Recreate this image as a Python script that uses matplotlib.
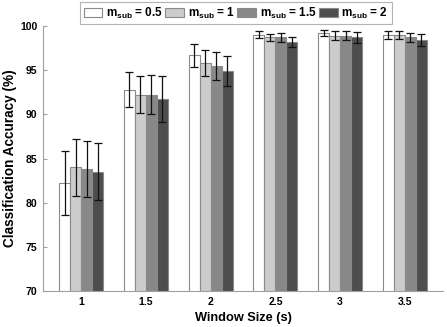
import matplotlib
matplotlib.use("Agg")
import matplotlib.pyplot as plt
import numpy as np

plt.rcParams['font.family'] = ['Liberation Sans', 'DejaVu Sans']
plt.rcParams['mathtext.fontset'] = 'custom'
plt.rcParams['mathtext.rm'] = 'Liberation Sans:bold'
plt.rcParams['mathtext.it'] = 'Liberation Sans:bold'
plt.rcParams['mathtext.bf'] = 'Liberation Sans:bold'

windows = ['1', '1.5', '2', '2.5', '3', '3.5']
series_labels = [r'$\mathregular{m_{sub}}$ = 0.5', r'$\mathregular{m_{sub}}$ = 1',
                 r'$\mathregular{m_{sub}}$ = 1.5', r'$\mathregular{m_{sub}}$ = 2']
acc_05 = [82.2, 92.8, 96.7, 99.0, 99.2, 99.0]
acc_1  = [84.0, 92.2, 95.8, 98.7, 98.9, 99.0]
acc_15 = [83.8, 92.2, 95.5, 98.7, 98.9, 98.7]
acc_2  = [83.5, 91.7, 94.9, 98.2, 98.7, 98.4]
err_05 = [3.6, 2.0, 1.3, 0.4, 0.35, 0.45]
err_1  = [3.2, 2.1, 1.5, 0.45, 0.5, 0.45]
err_15 = [3.2, 2.2, 1.6, 0.5, 0.5, 0.5]
err_2  = [3.2, 2.6, 1.7, 0.6, 0.6, 0.7]

colors = ['#ffffff', '#cccccc', '#888888', '#4d4d4d']
edge = '#8a8a8a'

fig = plt.figure(figsize=(4.47, 3.27), dpi=100)
ax = fig.add_axes([0.0962, 0.110, 0.895, 0.8105])

x = np.arange(1, len(windows) + 1)
bw = 0.17
data = [acc_05, acc_1, acc_15, acc_2]
errs = [err_05, err_1, err_15, err_2]
for i, (vals, e, c, lab) in enumerate(zip(data, errs, colors, series_labels)):
    pos = x + (i - 1.5) * bw
    ax.bar(pos, vals, width=bw, color=c, edgecolor=edge, linewidth=0.8, label=lab, zorder=2)
    ax.errorbar(pos, vals, yerr=e, fmt='none', ecolor='#111111', elinewidth=0.9,
                capsize=3, capthick=0.9, zorder=3)

ax.set_xlim(0.41, 6.59)
ax.set_ylim(70, 100)
ax.set_xticks(x)
ax.set_xticklabels(windows)
ax.set_yticks([70, 75, 80, 85, 90, 95, 100])
for s in ['top', 'right']:
    ax.spines[s].set_visible(False)
for s in ['left', 'bottom']:
    ax.spines[s].set_color('#a0a0a0')
    ax.spines[s].set_linewidth(0.8)
ax.tick_params(direction='in', length=3, color='#a0a0a0', labelsize=7.5, pad=4)
for lbl in ax.get_xticklabels() + ax.get_yticklabels():
    lbl.set_fontweight('bold')
ax.set_xlabel('Window Size (s)', fontsize=9.2, fontweight='bold', labelpad=4)
ax.set_ylabel('Classification Accuracy (%)', fontsize=9.8, fontweight='bold')
ax.yaxis.set_label_coords(-0.065, 0.5)

leg = ax.legend(loc='upper left', bbox_to_anchor=(80/447, 325/327), bbox_transform=fig.transFigure,
                ncol=4, frameon=True, fancybox=False, edgecolor='#a0a0a0',
                prop={'weight': 'bold', 'size': 8.5}, handlelength=1.6, handleheight=0.9,
                columnspacing=0.2, handletextpad=0.3, borderpad=0.3, borderaxespad=0)
leg.get_frame().set_linewidth(0.8)

fig.savefig('out.png', dpi=100)
